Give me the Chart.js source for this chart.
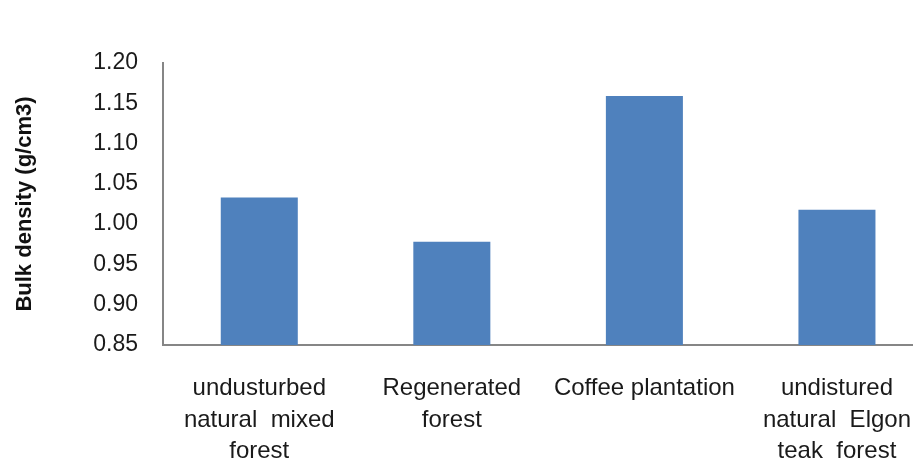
<!DOCTYPE html>
<html>
<head>
<meta charset="utf-8">
<script src="https://cdn.jsdelivr.net/npm/chart.js@4"></script>
<style>
  html, body { margin: 0; padding: 0; background: #fff; overflow: hidden; }
  #wrap { width: 938px; height: 464px; }
</style>
</head>
<body>
<div id="wrap"><canvas id="c" width="938" height="464"></canvas></div>
<script>
// Land-use categories (multi-line labels)
const categories = [
  ['undusturbed', 'natural  mixed', 'forest'],
  ['Regenerated', 'forest'],
  ['Coffee plantation'],
  ['undistured', 'natural  Elgon', 'teak  forest']
];
// Mean bulk density per land use (g/cm3)
const bulkDensity = [1.033, 0.978, 1.159, 1.018];
// Y axis range and step
const yMin = 0.85;
const yMax = 1.20;
const yStep = 0.05;

const axisGrey = '#868686';
const labelFont = 'Liberation Sans, Arial, sans-serif';

new Chart(document.getElementById('c'), {
  type: 'bar',
  data: {
    labels: categories,
    datasets: [{
      data: bulkDensity,
      backgroundColor: '#4F81BD',
      borderWidth: 0,
      barPercentage: 0.4,
      categoryPercentage: 1.0
    }]
  },
  options: {
    responsive: false,
    animation: false,
    layout: { padding: { top: 63, left: 0, right: 0, bottom: 0 } },
    plugins: { legend: { display: false }, tooltip: { enabled: false }, title: { display: false } },
    scales: {
      x: {
        grid: { display: false, drawTicks: false },
        border: { display: true, color: axisGrey, width: 2 },
        ticks: {
          color: '#1a1a1a',
          padding: 27,
          maxRotation: 0,
          autoSkip: false,
          font: { family: labelFont, size: 24, lineHeight: 1.33 }
        },
        afterFit: s => { s.height = 119; }
      },
      y: {
        min: yMin,
        max: yMax,
        grid: { display: false, drawTicks: false },
        border: { display: true, color: axisGrey, width: 2 },
        ticks: {
          stepSize: yStep,
          color: '#1a1a1a',
          padding: 25,
          font: { family: labelFont, size: 23 },
          callback: v => Number(v).toFixed(2)
        },
        title: {
          display: true,
          text: 'Bulk density (g/cm3)',
          color: '#111',
          padding: { top: 12, bottom: 0 },
          font: { family: labelFont, size: 22, weight: 'bold' }
        },
        afterFit: s => { s.width = 163; }
      }
    }
  }
});
</script>
</body>
</html>
